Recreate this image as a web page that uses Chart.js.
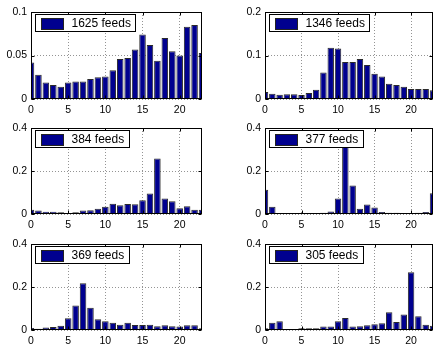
<!DOCTYPE html>
<html>
<head>
<meta charset="utf-8">
<script src="https://cdn.jsdelivr.net/npm/chart.js@4.4.1/dist/chart.umd.min.js"></script>
<style>
  html, body { margin: 0; padding: 0; background: #fff; }
  #wrap { position: relative; width: 434px; height: 345px; overflow: hidden; }
  .cell { position: absolute; width: 217px; height: 115px; }
  .cell canvas { display: block; }
</style>
</head>
<body>
<div id="wrap"></div>
<script>
// hour of day (x) and share of posts per hour for each group of feeds
const hours = [0, 1, 2, 3, 4, 5, 6, 7, 8, 9, 10, 11, 12, 13, 14, 15, 16, 17, 18, 19, 20, 21, 22, 23];

const feeds1625 = [0.042, 0.028, 0.019, 0.016, 0.014, 0.019, 0.020, 0.020, 0.023, 0.025, 0.026, 0.033,
                   0.046, 0.047, 0.057, 0.074, 0.062, 0.044, 0.070, 0.055, 0.050, 0.083, 0.085, 0.053];
const feeds1346 = [0.016, 0.012, 0.010, 0.011, 0.011, 0.009, 0.014, 0.021, 0.061, 0.118, 0.116, 0.085,
                   0.085, 0.092, 0.078, 0.058, 0.052, 0.035, 0.032, 0.028, 0.023, 0.023, 0.023, 0.020];
const feeds384  = [0.020, 0.016, 0.011, 0.011, 0.008, 0.002, 0.008, 0.016, 0.017, 0.025, 0.034, 0.048,
                   0.041, 0.047, 0.045, 0.064, 0.095, 0.258, 0.072, 0.059, 0.027, 0.036, 0.020, 0.020];
const feeds377  = [0.113, 0.034, 0.005, 0.003, 0.002, 0.002, 0.003, 0.002, 0.006, 0.012, 0.072, 0.330,
                   0.133, 0.025, 0.044, 0.030, 0.009, 0.006, 0.006, 0.005, 0.005, 0.006, 0.009, 0.097];
const feeds369  = [0.009, 0.006, 0.012, 0.014, 0.020, 0.055, 0.114, 0.217, 0.103, 0.050, 0.041, 0.034,
                   0.025, 0.034, 0.023, 0.023, 0.025, 0.017, 0.022, 0.017, 0.016, 0.022, 0.022, 0.008];
const feeds305  = [0.008, 0.034, 0.041, 0.003, 0.005, 0.008, 0.008, 0.008, 0.016, 0.016, 0.041, 0.056,
                   0.016, 0.017, 0.022, 0.027, 0.031, 0.083, 0.037, 0.072, 0.269, 0.064, 0.025, 0.020];

const seriesValues = [feeds1625, feeds1346, feeds384, feeds377, feeds369, feeds305];
const legendLabels = ['1625 feeds', '1346 feeds', '384 feeds', '377 feeds', '369 feeds', '305 feeds'];
const yTickMax  = [0.1, 0.2, 0.4, 0.4, 0.4, 0.4];
const yTickStep = [0.05, 0.1, 0.2, 0.2, 0.2, 0.2];
const xTickStep = 5;

const FONT = "'Liberation Sans', Arial, Helvetica, sans-serif";
const BAR_FILL = '#00008f';
const GRID = 'rgba(0,0,0,0.42)';

// frame, inward ticks and the boxed legend, matlab style
const matlabAxes = {
    id: 'matlabAxes',
    afterDatasetsDraw(chart) {
        const ctx = chart.ctx;
        const a = chart.chartArea;
        const L = Math.round(a.left) + 0.5, R = Math.round(a.right) - 0.5;
        const T = Math.round(a.top) + 0.5, B = Math.round(a.bottom) - 0.5;
        ctx.save();
        ctx.strokeStyle = '#000';
        ctx.lineWidth = 1;
        ctx.beginPath();
        chart.scales.x.ticks.forEach(t => {
            const px = Math.round(chart.scales.x.getPixelForValue(t.value)) + 0.5;
            ctx.moveTo(px, B); ctx.lineTo(px, B - 3);
            ctx.moveTo(px, T); ctx.lineTo(px, T + 3);
        });
        chart.scales.y.ticks.forEach(t => {
            const py = Math.round(chart.scales.y.getPixelForValue(t.value)) + 0.5;
            ctx.moveTo(L, py); ctx.lineTo(L + 3, py);
            ctx.moveTo(R, py); ctx.lineTo(R - 3, py);
        });
        ctx.stroke();
        ctx.strokeRect(L, T, R - L, B - T);

        // legend box
        const ds = chart.data.datasets[0];
        ctx.font = '12px ' + FONT;
        const tw = ctx.measureText(ds.label).width;
        const bx = Math.round(a.left) + 4.5, by = Math.round(a.top) + 2.5;
        const bw = Math.round(36 + tw + 5), bh = 17;
        ctx.fillStyle = '#fff';
        ctx.fillRect(bx, by, bw, bh);
        ctx.strokeRect(bx, by, bw, bh);
        ctx.fillStyle = ds.backgroundColor;
        ctx.fillRect(bx + 6, by + 4, 22, 11);
        ctx.strokeStyle = '#222';
        ctx.strokeRect(bx + 6, by + 4, 22, 11);
        ctx.fillStyle = '#000';
        ctx.textBaseline = 'middle';
        ctx.textAlign = 'left';
        ctx.fillText(ds.label, bx + 36, by + bh / 2 + 0.5);
        ctx.restore();
    }
};

const wrap = document.getElementById('wrap');

seriesValues.forEach((vals, i) => {
    const col = i % 2, row = Math.floor(i / 2);
    const cell = document.createElement('div');
    cell.className = 'cell';
    cell.style.left = (col * 217) + 'px';
    cell.style.top = (row * 115) + 'px';
    const canvas = document.createElement('canvas');
    canvas.width = 217;
    canvas.height = 115;
    cell.appendChild(canvas);
    wrap.appendChild(cell);

    const yWidth = col === 0 ? 31 : 48;
    const xHeight = row === 2 ? 15 : 16;

    new Chart(canvas.getContext('2d'), {
        type: 'bar',
        data: {
            datasets: [{
                label: legendLabels[i],
                data: hours.map((h, k) => ({ x: h, y: vals[k] })),
                backgroundColor: BAR_FILL,
                borderColor: '#2a2a2a',
                borderWidth: 1,
                borderSkipped: 'bottom',
                barPercentage: 0.88,
                categoryPercentage: 1,
                clip: 0
            }]
        },
        options: {
            responsive: false,
            animation: false,
            events: [],
            layout: { padding: { left: 0, top: [12, 13, 14][row], right: col === 0 ? 15 : 1, bottom: 0 } },
            plugins: { legend: { display: false }, tooltip: { enabled: false } },
            scales: {
                x: {
                    type: 'linear',
                    min: 0,
                    max: 23,
                    offset: false,
                    grid: { offset: false, color: GRID, drawTicks: false },
                    border: { display: false, dash: [1, 2] },
                    ticks: {
                        stepSize: xTickStep,
                        includeBounds: false,
                        padding: 5,
                        color: '#000',
                        font: { family: FONT, size: 10.5 },
                        maxRotation: 0
                    },
                    afterFit(scale) { scale.height = xHeight; }
                },
                y: {
                    min: 0,
                    max: yTickMax[i],
                    grid: { color: GRID, drawTicks: false },
                    border: { display: false, dash: [1, 2] },
                    ticks: {
                        stepSize: yTickStep[i],
                        padding: 4,
                        color: '#000',
                        font: { family: FONT, size: 10.5 },
                        callback: v => String(parseFloat(v.toFixed(6)))
                    },
                    afterFit(scale) { scale.width = yWidth; }
                }
            }
        },
        plugins: [matlabAxes]
    });
});
</script>
</body>
</html>
